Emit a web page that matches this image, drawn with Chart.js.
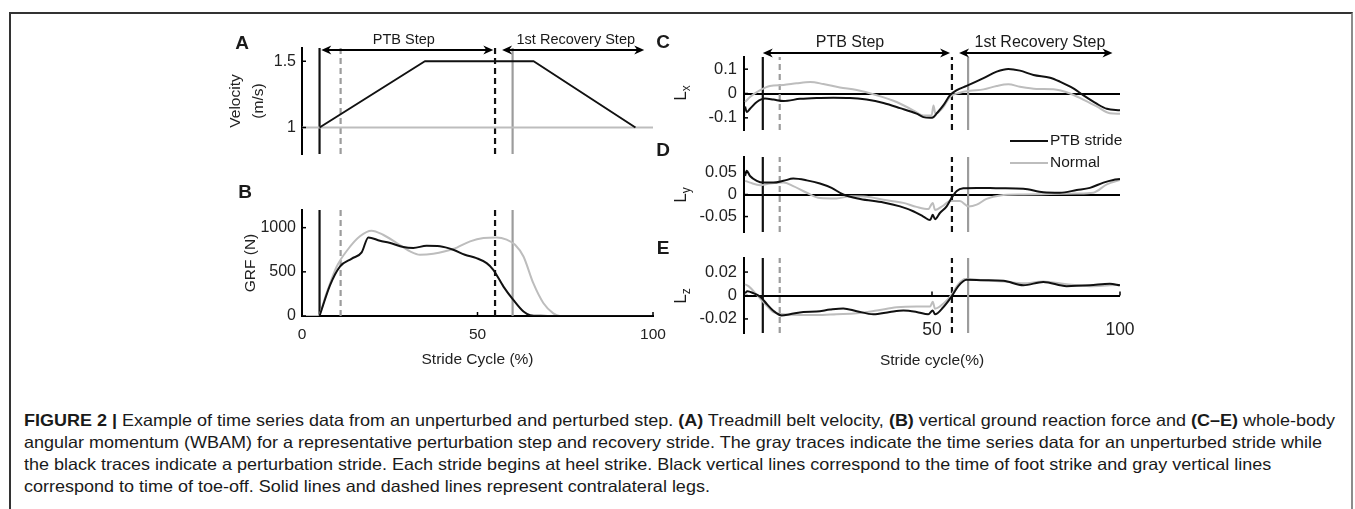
<!DOCTYPE html>
<html>
<head>
<meta charset="utf-8">
<script src="https://cdn.jsdelivr.net/npm/chart.js@4.4.0/dist/chart.umd.min.js"></script>
<style>
html, body { margin: 0; padding: 0; background: #fff; }
#fig { position: relative; width: 1355px; height: 509px; overflow: hidden; font-family: "Liberation Sans", Arial, sans-serif; color: #1a1a1a; }
#frame { position: absolute; left: 9px; top: 12px; width: 1340px; height: 520px; border-top: 2px solid #333; border-left: 2px solid #333; border-right: 2px solid #8c8c8c; }
canvas { position: absolute; }
.lbl { position: absolute; font-weight: bold; font-size: 19px; transform: translate(-50%, -50%); }
.yl { position: absolute; font-size: 17px; transform: translate(-50%, -50%) rotate(-90deg); white-space: nowrap; }
.yl sub { font-size: 12px; }
.leg { position: absolute; font-size: 15.5px; white-space: nowrap; transform: translateY(-50%); }
.leg i { display: inline-block; width: 38px; height: 2px; vertical-align: middle; margin-right: 2px; }
.cap { position: absolute; left: 24px; font-size: 16.5px; line-height: 22px; white-space: nowrap; transform-origin: 0 50%; }
</style>
</head>
<body>
<div id="fig">
  <div id="frame"></div>
  <canvas id="cA" width="444" height="146" style="left:215px;top:14px"></canvas>
  <canvas id="cB" width="474" height="180" style="left:215px;top:200px"></canvas>
  <canvas id="cC" width="436" height="122" style="left:690px;top:14px"></canvas>
  <canvas id="cD" width="436" height="88" style="left:690px;top:150px"></canvas>
  <canvas id="cE" width="466" height="130" style="left:690px;top:250px"></canvas>
  <div class="lbl" style="left:242px;top:43px">A</div>
  <div class="lbl" style="left:245px;top:192px">B</div>
  <div class="lbl" style="left:663px;top:42px">C</div>
  <div class="lbl" style="left:663px;top:150px">D</div>
  <div class="lbl" style="left:663px;top:248px">E</div>
  <div class="yl" style="left:682px;top:93px">L<sub>x</sub></div>
  <div class="yl" style="left:682px;top:195px">L<sub>y</sub></div>
  <div class="yl" style="left:682px;top:296px">L<sub>z</sub></div>
  <div id="legend"></div>
  <div id="caption"></div>
</div>
<script>
// series / axis data
var stepNames = ['PTB Step', '1st Recovery Step'];
var seriesNames = ['PTB stride', 'Normal'];

var velTimePTB = [5, 35, 66, 95];
var velPTB = [1, 1.5, 1.5, 1];
var velTimeNormal = [0, 100];
var velNormal = [1, 1];

var grfTimePTB = [5, 8, 10.8, 14.2, 17, 18.9, 22.2, 24.9, 28.9, 31.7, 35.5, 39.3, 43.1, 46.4, 49.7, 52.6, 54.5, 57.4, 60.2, 63.1, 65, 68, 72, 100];
var grfPTB = [0, 350, 560, 650, 720, 890, 852, 830, 780, 770, 795, 790, 750, 693, 655, 598, 523, 333, 182, 50, 10, 2, 0, 0];
var grfTimeNormal = [0, 4.5, 7, 9.9, 13, 16.5, 19.8, 23.1, 27, 30.8, 33.6, 37.4, 43.1, 47.9, 51.7, 55.5, 58.3, 60.7, 63.1, 65.9, 68.8, 71.6, 73.5, 100];
var grfNormal = [0, 0, 260, 560, 750, 902, 966, 920, 826, 731, 693, 705, 758, 845, 883, 890, 864, 807, 674, 371, 144, 30, 0, 0];

var lxTimePTB = [0.3, 0.7, 1.6, 3.4, 5.6, 7.8, 10.5, 14.9, 19.3, 23.8, 28.2, 32.6, 37.1, 41.5, 45.9, 47.7, 49.5, 50.4, 51.2, 53, 54.8, 56.6, 59.2, 63.7, 67.2, 70.3, 73.4, 77, 81.4, 84, 87.6, 90.2, 93.8, 96.5, 100];
var lxPTB = [-0.053, -0.076, -0.063, -0.035, -0.021, -0.025, -0.031, -0.022, -0.018, -0.017, -0.018, -0.025, -0.039, -0.06, -0.083, -0.097, -0.1, -0.097, -0.083, -0.049, -0.007, 0.014, 0.031, 0.063, 0.09, 0.101, 0.094, 0.076, 0.065, 0.049, 0.021, -0.007, -0.042, -0.063, -0.069];
var lxTimeNormal = [0.3, 1.6, 4.3, 6.9, 10.5, 14, 17.6, 21.1, 25.5, 30, 35.3, 40.6, 45, 47.7, 49.9, 50.4, 50.9, 53, 54.8, 57.4, 60.1, 63.7, 67.2, 70.3, 73.4, 77.8, 82.3, 86.7, 90.2, 93.8, 97.3, 100];
var lxNormal = [-0.035, -0.014, 0.014, 0.031, 0.035, 0.042, 0.047, 0.039, 0.025, 0.014, -0.007, -0.035, -0.069, -0.09, -0.09, -0.049, -0.083, -0.056, -0.014, 0.003, 0.011, 0.017, 0.031, 0.038, 0.028, 0.019, 0.017, 0, -0.025, -0.053, -0.081, -0.083];

var lyTimePTB = [0.3, 0.7, 1.6, 3.4, 5.1, 7.8, 10.5, 13.1, 16.7, 20.2, 23.3, 26.4, 30.9, 37.1, 41.5, 45, 47.7, 49.5, 50.2, 50.8, 52.1, 53.9, 55.2, 56.6, 58.3, 61.9, 68.1, 74.3, 79.6, 84, 88.5, 92, 95.6, 98.2, 100];
var lyPTB = [0.042, 0.054, 0.042, 0.031, 0.027, 0.027, 0.031, 0.036, 0.032, 0.025, 0.015, 0, -0.01, -0.018, -0.027, -0.038, -0.05, -0.058, -0.046, -0.056, -0.042, -0.027, -0.008, 0.008, 0.014, 0.015, 0.014, 0.013, 0.005, 0.004, 0.01, 0.015, 0.027, 0.033, 0.035];
var lyTimeNormal = [0.3, 1.6, 4.3, 6.9, 10.5, 13.1, 16.7, 20.2, 24.6, 28.2, 32.6, 37.1, 42.4, 45.9, 49, 50.2, 50.8, 53, 54.8, 57.4, 59.7, 61.9, 64.5, 68.1, 74.3, 81.4, 88.5, 92.9, 96.5, 100];
var lyNormal = [0.031, 0.027, 0.021, 0.025, 0.027, 0.019, 0.004, -0.008, -0.009, -0.004, -0.005, -0.012, -0.019, -0.028, -0.033, -0.019, -0.035, -0.025, -0.015, -0.015, -0.027, -0.023, -0.01, -0.002, 0, 0.001, 0.002, 0.004, 0.023, 0.033];

var lzTimePTB = [0.3, 0.9, 2.5, 4.3, 6, 7.8, 10, 12.2, 15.8, 19.3, 22.9, 26.4, 30, 34.4, 38.8, 42.4, 45.9, 49, 50.2, 50.8, 53, 55.2, 57, 59.2, 63.7, 69, 74.3, 79.6, 85.8, 92, 97.3, 100];
var lzPTB = [0.002, 0.0036, 0.002, -0.001, -0.007, -0.013, -0.017, -0.016, -0.014, -0.0137, -0.012, -0.011, -0.0134, -0.016, -0.014, -0.0128, -0.014, -0.016, -0.0128, -0.016, -0.01, -0.001, 0.008, 0.0134, 0.013, 0.0125, 0.0087, 0.0116, 0.008, 0.0087, 0.01, 0.0087];
var lzTimeNormal = [0.3, 1.2, 3.4, 5.6, 7.8, 10.5, 14.9, 19.3, 24.6, 30, 35.3, 40.6, 45.9, 49.5, 50.2, 50.8, 53, 55.2, 57, 58.8, 63.7, 69, 74.3, 79.6, 85.8, 92, 97.3, 100];
var lzNormal = [0.0096, 0.008, 0.0006, -0.007, -0.0143, -0.016, -0.0167, -0.0167, -0.016, -0.0152, -0.0128, -0.01, -0.0093, -0.0093, -0.0054, -0.0113, -0.007, 0.0006, 0.0096, 0.014, 0.013, 0.012, 0.0104, 0.012, 0.0096, 0.008, 0.0087, 0.009];

// gait events: foot strike, contralateral toe-off, contralateral foot strike, toe-off
var eventsAB = [5, 11, 55, 60];
var eventsCE = [5, 9.5, 55.3, 59.6];
var stepSpansAB = [[5.5, 54.5], [57, 97.5]];
var stepSpansCE = [[5, 54.8], [57.2, 98]];
var stepTextAB = [29, 78];
var stepTextCE = [28.2, 78.7];

var velRange = [0.8, 1.6], velTicks = [1, 1.5];
var grfRange = [0, 1200], grfTicks = [0, 500, 1000];
var lxRange = [-0.15, 0.15], lxTicks = [-0.1, 0, 0.1];
var lyRange = [-0.085, 0.085], lyTicks = [-0.05, 0, 0.05];
var lzRange = [-0.032, 0.032], lzTicks = [-0.02, 0, 0.02];
var strideTicksB = [0, 50, 100];
var strideTicksE = [50, 100];

var captionLines = [
  '<b>FIGURE 2 |</b> Example of time series data from an unperturbed and perturbed step. <b>(A)</b> Treadmill belt velocity, <b>(B)</b> vertical ground reaction force and <b>(C\u2013E)</b> whole-body',
  'angular momentum (WBAM) for a representative perturbation step and recovery stride. The gray traces indicate the time series data for an unperturbed stride while',
  'the black traces indicate a perturbation stride. Each stride begins at heel strike. Black vertical lines correspond to the time of foot strike and gray vertical lines',
  'correspond to time of toe-off. Solid lines and dashed lines represent contralateral legs.'
];

var FONT = '"Liberation Sans", Arial, sans-serif';
var BLACK = '#111', GRAY = '#bdbdbd', EVGRAY = '#9c9c9c';
Chart.defaults.font.family = FONT;

function pts(xs, ys) {
  return xs.map(function (x, i) { return {x: x, y: ys[i]}; });
}

function traces(tb, yb, tn, yn, smooth) {
  var mode = smooth ? 'monotone' : 'default';
  return [
    {label: seriesNames[0], data: pts(tb, yb), borderColor: BLACK, borderWidth: 2, cubicInterpolationMode: mode, tension: 0},
    {label: seriesNames[1], data: pts(tn, yn), borderColor: GRAY, borderWidth: 2, cubicInterpolationMode: mode, tension: 0}
  ];
}

function eventSets(ev, range) {
  var styles = [[BLACK, []], [EVGRAY, [6, 4]], [BLACK, [6, 4]], [EVGRAY, []]];
  return ev.map(function (x, i) {
    return {label: 'ev' + i, data: [{x: x, y: range[0]}, {x: x, y: range[1]}],
      borderColor: styles[i][0], borderDash: styles[i][1], borderWidth: 2.2, tension: 0};
  });
}

// short inward tick marks, matlab style
var inTicks = {
  id: 'inTicks',
  afterDraw: function (chart, args, o) {
    var ctx = chart.ctx, a = chart.chartArea, ys = chart.scales.y, xs = chart.scales.x;
    ctx.save();
    ctx.strokeStyle = '#000';
    ctx.lineWidth = 1.5;
    ys.ticks.forEach(function (t) {
      var p = ys.getPixelForValue(t.value);
      ctx.beginPath(); ctx.moveTo(a.left, p); ctx.lineTo(a.left + 4, p); ctx.stroke();
    });
    if (o.xAt !== undefined) {
      var base = ys.getPixelForValue(o.xAt);
      xs.ticks.forEach(function (t) {
        var p = xs.getPixelForValue(t.value);
        ctx.beginPath(); ctx.moveTo(p, base); ctx.lineTo(p, base - 4); ctx.stroke();
      });
    }
    ctx.restore();
  }
};

function head(ctx, x, y, dir) {
  ctx.beginPath();
  ctx.moveTo(x, y);
  ctx.lineTo(x - dir * 10, y - 4.5);
  ctx.lineTo(x - dir * 7, y);
  ctx.lineTo(x - dir * 10, y + 4.5);
  ctx.closePath();
  ctx.fill();
}

var stepArrows = {
  id: 'stepArrows',
  afterDraw: function (chart, args, o) {
    if (!o.spans) return;
    var ctx = chart.ctx, xs = chart.scales.x, ay = chart.chartArea.top + o.dy;
    ctx.save();
    ctx.strokeStyle = '#000';
    ctx.fillStyle = '#000';
    ctx.lineWidth = 2;
    o.spans.forEach(function (s, i) {
      var x0 = xs.getPixelForValue(s[0]), x1 = xs.getPixelForValue(s[1]);
      ctx.beginPath(); ctx.moveTo(x0 + 4, ay); ctx.lineTo(x1 - 4, ay); ctx.stroke();
      head(ctx, x0, ay, -1);
      head(ctx, x1, ay, 1);
      ctx.font = o.size + 'px ' + FONT;
      ctx.fillStyle = '#1a1a1a';
      ctx.textAlign = 'center';
      ctx.textBaseline = 'middle';
      ctx.fillText(stepNames[i], xs.getPixelForValue(o.textAt[i]), ay - o.gap);
      ctx.fillStyle = '#000';
    });
    ctx.restore();
  }
};

function panel(id, p) {
  var yScale = {
    type: 'linear', min: p.range[0], max: p.range[1],
    afterBuildTicks: function (s) { s.ticks = p.yTicks.map(function (v) { return {value: v}; }); },
    afterFit: function (s) { s.width = p.yW; s.paddingTop = 0; s.paddingBottom = 0; },
    border: {display: true, color: '#000', width: 2},
    grid: {display: !!p.zero, drawTicks: false, lineWidth: 2,
      color: function (c) { return (c.tick && c.tick.value === 0) ? '#000' : 'rgba(0,0,0,0)'; }},
    ticks: {padding: p.yPad, color: '#222', autoSkip: false, font: {size: p.yFont},
      callback: function (v) { return String(v); }},
    title: p.yTitle ? {display: true, text: p.yTitle, color: '#222',
      font: {size: 15.5, lineHeight: 1.5}, padding: {top: p.yTitlePad, bottom: 0}} : {display: false}
  };
  var xScale = {
    type: 'linear', min: 0, max: 100, display: !!p.xTicks,
    afterBuildTicks: function (s) { if (p.xTicks) s.ticks = p.xTicks.map(function (v) { return {value: v}; }); },
    afterFit: function (s) { if (p.xTicks) s.height = p.xH; s.paddingLeft = 0; s.paddingRight = 0; },
    border: {display: !!p.xBorder, color: '#000', width: 2},
    grid: {display: false, drawTicks: false},
    ticks: {padding: p.xPad, mirror: !!p.xMirror, maxRotation: 0, autoSkip: false, color: '#222', font: {size: p.xFont},
      callback: function (v) { return String(v); }},
    title: p.xTitle ? {display: true, text: p.xTitle, color: '#222', font: {size: 15.5},
      padding: {top: 0, bottom: p.xTitlePad}} : {display: false}
  };
  return new Chart(document.getElementById(id), {
    type: 'line',
    data: {datasets: p.sets},
    options: {
      responsive: false, animation: false, devicePixelRatio: 1, events: [],
      layout: {padding: p.pad},
      elements: {point: {radius: 0}, line: {borderCapStyle: 'butt', borderJoinStyle: 'round', fill: false}},
      scales: {x: xScale, y: yScale},
      plugins: {legend: {display: false}, tooltip: {enabled: false},
        inTicks: {xAt: p.xTickAt}, stepArrows: p.arrows || {}}
    },
    plugins: [inTicks, stepArrows]
  });
}

panel('cA', {
  range: velRange, yTicks: velTicks, yW: 87, yPad: 6, yFont: 16, yTitle: ['Velocity', '(m/s)'], yTitlePad: 9,
  pad: {top: 34, right: 6, bottom: 6, left: 0},
  sets: traces(velTimePTB, velPTB, velTimeNormal, velNormal, false).concat(eventSets(eventsAB, velRange)),
  arrows: {spans: stepSpansAB, textAt: stepTextAB, dy: 2, gap: 10, size: 14.5}
});

panel('cB', {
  range: grfRange, yTicks: grfTicks, yW: 87, yPad: 6, yFont: 16, yTitle: 'GRF (N)', yTitlePad: 24,
  xTicks: strideTicksB, xH: 64, xPad: 9, xFont: 15.5, xBorder: true, xTickAt: 0,
  xTitle: 'Stride Cycle (%)', xTitlePad: 11,
  pad: {top: 10, right: 36, bottom: 0, left: 0},
  sets: traces(grfTimePTB, grfPTB, grfTimeNormal, grfNormal, true).concat(eventSets(eventsAB, grfRange))
});

panel('cC', {
  range: lxRange, yTicks: lxTicks, yW: 54, yPad: 7, yFont: 16.5, zero: true,
  pad: {top: 43, right: 6, bottom: 6, left: 0},
  sets: traces(lxTimePTB, lxPTB, lxTimeNormal, lxNormal, true).concat(eventSets(eventsCE, lxRange)),
  arrows: {spans: stepSpansCE, textAt: stepTextCE, dy: -4, gap: 10, size: 16}
});

panel('cD', {
  range: lyRange, yTicks: lyTicks, yW: 54, yPad: 7, yFont: 16.5, zero: true,
  pad: {top: 7, right: 6, bottom: 6, left: 0},
  sets: traces(lyTimePTB, lyPTB, lyTimeNormal, lyNormal, true).concat(eventSets(eventsCE, lyRange))
});

panel('cE', {
  range: lzRange, yTicks: lzTicks, yW: 54, yPad: 7, yFont: 16.5, zero: true,
  xTicks: strideTicksE, xH: 47, xPad: -7.5, xMirror: true, xFont: 17.5, xTickAt: 0,
  xTitle: 'Stride cycle(%)', xTitlePad: 10,
  pad: {top: 8, right: 36, bottom: 0, left: 0},
  sets: traces(lzTimePTB, lzPTB, lzTimeNormal, lzNormal, true).concat(eventSets(eventsCE, lzRange))
});

// legend built from the series names
var legColors = [BLACK, GRAY];
var legTop = [140, 162];
document.getElementById('legend').innerHTML = seriesNames.map(function (n, i) {
  return '<div class="leg" style="left:1010px;top:' + legTop[i] + 'px"><i style="background:' + legColors[i] + '"></i>' + n + '</div>';
}).join('');

// caption, squeezed to the width of the original text block
var cap = document.getElementById('caption');
cap.innerHTML = captionLines.map(function (t, i) {
  return '<div class="cap" style="top:' + (409 + i * 22) + 'px"><span>' + t + '</span></div>';
}).join('');
var first = cap.querySelector('.cap span').getBoundingClientRect().width;
var k = 1311 / first;
cap.querySelectorAll('.cap').forEach(function (d) { d.style.transform = 'scaleX(' + k + ')'; });
</script>
</body>
</html>
